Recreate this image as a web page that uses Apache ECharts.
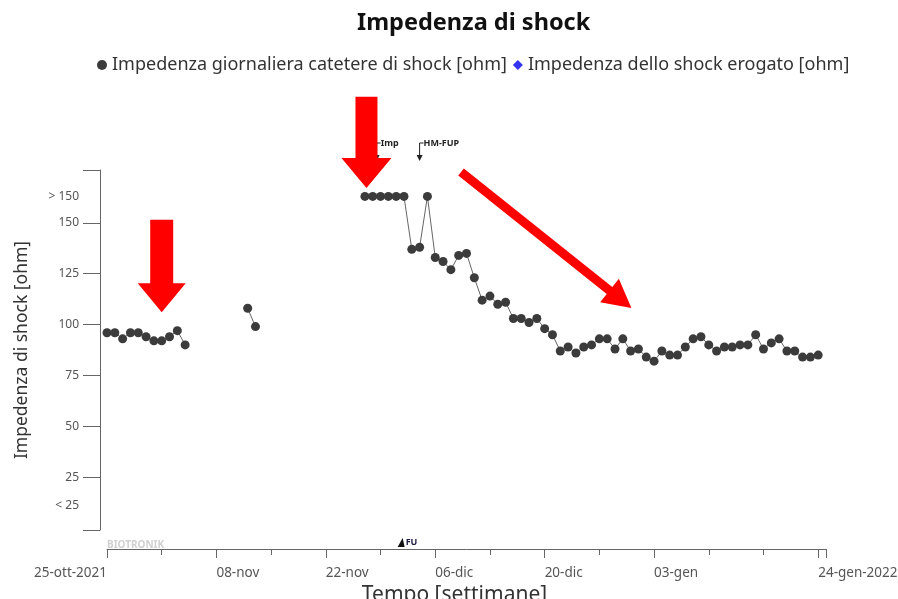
<!DOCTYPE html>
<html>
<head>
<meta charset="utf-8">
<script src="https://cdn.jsdelivr.net/npm/echarts@6/dist/echarts.min.js"></script>
<style>
  html, body { margin: 0; padding: 0; background: #fff; }
  #chart { width: 898px; height: 599px; }
</style>
</head>
<body>
<div id="chart"></div>
<script>
// [A] Dati: un valore al giorno a partire dal 25-ott-2021 (null = nessuna misura)
const impedenza = [
  96, 96, 93, 96, 96, 94, 92, 92, 94, 97, 90,
  null, null, null, null, null, null, null,
  108, 99,
  null, null, null, null, null, null, null, null, null, null, null, null, null,
  '>150', '>150', '>150', '>150', '>150', '>150',
  137, 138, '>150', 133, 131, 127, 134, 135, 123, 112,
  114, 110, 111, 103, 103, 101, 103, 98, 95, 87,
  89, 86, 89, 90, 93, 93, 88, 93, 87, 88,
  84, 82, 87, 85, 85, 89, 93, 94, 90, 87,
  89, 89, 90, 90, 95, 88, 91, 93, 87, 87,
  84, 84, 85
];
const impedenzaErogato = [];  // nessuno shock erogato

// [B] Assi
const giorniEtichette = [0, 14, 28, 42, 56, 70, 91];
const etichetteX = ['25-ott-2021', '08-nov', '22-nov', '06-dic', '20-dic', '03-gen', '24-gen-2022'];
const giorniTickLunghi = [0, 14, 28, 42, 56, 70, 91, 92];
const giorniTickCorti = [7, 21, 35, 49, 63, 77, 84];

const valoriEtichetteY = [11, 25, 50, 75, 100, 125, 150, 163];
const etichetteY = ['< 25', '25', '50', '75', '100', '125', '150', '> 150'];
const valoriTickY = [-1, 25, 50, 75, 100, 125, 150, 176];
const FASCIA_SOPRA_150 = 163;

// [C] Annotazioni
const eventi = [{ giorno: 34.5, testo: 'Imp' }, { giorno: 40, testo: 'HM-FUP' }];
const followUp = [{ giorno: 37.7, testo: 'FU' }];
// frecce rosse: [giorno, ohm] coda -> punta
const frecce = [
  { da: [7, 151.5], a: [7, 106], w: 23, hw: 48, hl: 29 },
  { da: [33.2, 212], a: [33.2, 167.2], w: 22, hw: 50, hl: 30 },
  { da: [45.3, 175], a: [67.1, 108.2], w: 9, hw: 30, hl: 28 }
];

const FONT = "'Noto Sans', 'DejaVu Sans', sans-serif";
const chartDom = document.getElementById('chart');
const myChart = echarts.init(chartDom);

const serieDati = impedenza.map((v, g) => [g, v === null ? '-' : (v === '>150' ? FASCIA_SOPRA_150 : v)]);

const option = {
  animation: false,
  backgroundColor: '#fff',
  title: {
    text: 'Impedenza di shock',
    left: 352,
    top: 6,
    textStyle: { fontFamily: FONT, fontSize: 23.5, fontWeight: 'bold', color: '#111' }
  },
  legend: {
    top: 51,
    left: 92,
    itemGap: 6,
    itemWidth: 10,
    itemHeight: 10,
    textStyle: { fontFamily: FONT, fontSize: 18, color: '#333' },
    data: [
      { name: 'Impedenza giornaliera catetere di shock [ohm]', icon: 'circle' },
      { name: 'Impedenza dello shock erogato [ohm]', icon: 'diamond' }
    ]
  },
  grid: { left: 107, right: 72, top: 170, bottom: 69, outerBoundsMode: 'none' },
  xAxis: [{
    type: 'value',
    min: 0,
    max: 92,
    offset: 19,
    splitLine: { show: false },
    axisLine: { onZero: false, lineStyle: { color: '#666', width: 1 } },
    axisTick: { customValues: giorniTickLunghi, length: 9, lineStyle: { color: '#666' } },
    axisLabel: {
      customValues: giorniEtichette,
      formatter: v => etichetteX[giorniEtichette.indexOf(v)],
      align: 'left',
      alignMinLabel: 'right',
      margin: 17,
      fontFamily: FONT,
      fontSize: 13.5,
      color: '#555'
    },
    name: 'Tempo [settimane]',
    nameLocation: 'middle',
    nameGap: 32,
    nameTextStyle: { fontFamily: FONT, fontSize: 21, color: '#333', padding: [0, 24, 0, 0] }
  }, {
    type: 'value',
    min: 0,
    max: 92,
    position: 'bottom',
    offset: 19,
    splitLine: { show: false },
    axisLine: { show: false, onZero: false },
    axisTick: { customValues: giorniTickCorti, length: 6, lineStyle: { color: '#666' } },
    axisLabel: { show: false }
  }],
  yAxis: {
    type: 'value',
    min: -1,
    max: 176,
    offset: 7,
    splitLine: { show: false },
    axisLine: { show: true, onZero: false, lineStyle: { color: '#666', width: 1 } },
    axisTick: { show: true, customValues: valoriTickY, length: 17, lineStyle: { color: '#666' } },
    axisLabel: {
      customValues: valoriEtichetteY,
      formatter: v => etichetteY[valoriEtichetteY.indexOf(v)],
      margin: 21,
      fontFamily: FONT,
      fontSize: 12,
      color: '#555'
    },
    name: 'Impedenza di shock [ohm]',
    nameLocation: 'middle',
    nameRotate: 90,
    nameGap: 69,
    nameTextStyle: { fontFamily: FONT, fontSize: 17.5, color: '#333' }
  },
  series: [{
    name: 'Impedenza giornaliera catetere di shock [ohm]',
    type: 'line',
    data: serieDati,
    connectNulls: false,
    symbol: 'circle',
    symbolSize: 9,
    showSymbol: true,
    itemStyle: { color: '#3b3b3b' },
    lineStyle: { color: '#666', width: 1 },
    z: 3
  }, {
    name: 'Impedenza dello shock erogato [ohm]',
    type: 'scatter',
    symbol: 'diamond',
    data: impedenzaErogato,
    itemStyle: { color: '#0000ee' }
  }]
};

myChart.setOption(option);

// [D] Grafica aggiuntiva posizionata tramite le scale
function punto(d) {
  return myChart.convertToPixel({ seriesIndex: 0 }, d);
}
function freccia(p0, p1, w, hw, hl) {
  const dx = p1[0] - p0[0], dy = p1[1] - p0[1];
  const len = Math.hypot(dx, dy);
  const ux = dx / len, uy = dy / len, nx = -uy, ny = ux;
  const b = [p1[0] - ux * hl, p1[1] - uy * hl];
  return [
    [p0[0] + nx * w / 2, p0[1] + ny * w / 2],
    [b[0] + nx * w / 2, b[1] + ny * w / 2],
    [b[0] + nx * hw / 2, b[1] + ny * hw / 2],
    p1,
    [b[0] - nx * hw / 2, b[1] - ny * hw / 2],
    [b[0] - nx * w / 2, b[1] - ny * w / 2],
    [p0[0] - nx * w / 2, p0[1] - ny * w / 2]
  ];
}

const grafica = [];
const yTop = punto([0, 176])[1];
const yAsseX = punto([0, -1])[1] + 19;

eventi.forEach(ev => {
  const x = punto([ev.giorno, 0])[0];
  const y0 = yTop - 27;
  grafica.push({
    type: 'polyline', z: 10,
    shape: { points: [[x + 4, y0], [x, y0], [x, y0 + 14]] },
    style: { stroke: '#222', lineWidth: 1, fill: null }
  });
  grafica.push({
    type: 'polygon', z: 10,
    shape: { points: [[x - 3, y0 + 12], [x + 3, y0 + 12], [x, y0 + 18]] },
    style: { fill: '#222' }
  });
  grafica.push({
    type: 'text', z: 10, x: x + 4, y: y0,
    style: { text: ev.testo, fill: '#222', font: 'bold 9px ' + FONT, textVerticalAlign: 'middle' }
  });
});

followUp.forEach(ev => {
  const x = punto([ev.giorno, 0])[0];
  grafica.push({
    type: 'polygon', z: 10,
    shape: { points: [[x - 4, yAsseX - 2], [x + 3, yAsseX - 2], [x + 1, yAsseX - 11]] },
    style: { fill: '#111' }
  });
  grafica.push({
    type: 'text', z: 10, x: x + 4, y: yAsseX - 7,
    style: { text: ev.testo, fill: '#1a1a40', font: 'bold 9px ' + FONT, textVerticalAlign: 'middle' }
  });
});

grafica.push({
  type: 'text', z: 1, x: punto([0, 0])[0], y: yAsseX - 4,
  style: { text: 'BIOTRONIK', fill: '#d0d0d0', font: 'bold 10px ' + FONT, textVerticalAlign: 'middle' }
});

frecce.forEach(f => {
  grafica.push({
    type: 'polygon', z: 20,
    shape: { points: freccia(punto(f.da), punto(f.a), f.w, f.hw, f.hl) },
    style: { fill: '#ff0000' }
  });
});

myChart.setOption({ graphic: grafica });
</script>
</body>
</html>
